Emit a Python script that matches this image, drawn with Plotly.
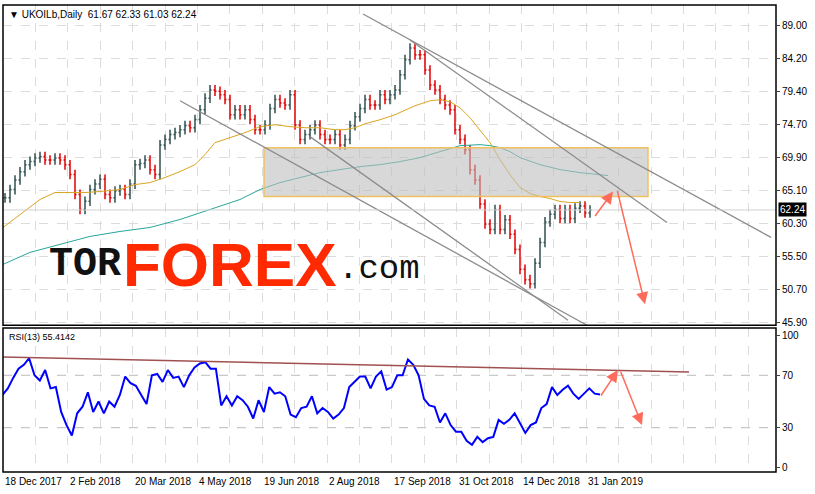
import numpy as np
import plotly.graph_objects as go
from plotly.subplots import make_subplots

# closes sampled every ~2.5 trading days (sample index k)
closes = [64.0,65.2,66.6,67.8,68.8,69.3,69.8,70.0,69.5,69.5,69.8,69.5,68.8,67.4,64.5,62.3,63.5,65.2,66.0,66.7,
          64.5,64.0,65.0,65.2,64.5,66.0,68.8,69.0,69.5,68.1,67.4,71.7,72.5,73.2,73.5,73.9,74.5,74.2,75.4,76.8,
          78.5,79.7,79.5,79.0,78.3,76.1,76.8,76.1,76.8,75.4,73.9,73.9,74.6,77.0,78.3,77.8,77.5,79.0,74.6,72.5,
          73.2,73.9,74.6,73.2,72.5,72.5,73.2,71.7,72.5,74.5,75.8,77.0,78.3,77.5,77.5,79.0,78.3,79.0,79.7,81.9,
          84.1,85.8,84.8,84.8,82.6,80.4,79.7,78.3,77.5,76.8,73.9,72.5,71.0,68.1,66.6,63.1,60.2,59.4,62.3,59.4,
          60.8,58.7,56.5,53.6,52.1,51.5,54.5,57.5,60.5,61.6,62.3,61.0,62.3,61.0,62.5,62.8,61.8,62.24]

ma50_k = [-0.4,3,7,10,13,16,19,23,26,29,32,35,38,40,42,45,48,51,54,57,60,63,66,68,70,72,75,78,82,85,87,89,91,93,95,97,99,101,103,105,107,109,111,113,115]
ma50_v = [59.69,61.58,63.76,64.77,64.77,64.77,64.92,65.21,65.93,66.22,66.95,67.82,68.83,70.28,72.03,72.75,73.48,74.35,74.64,74.35,
          74.20,74.20,73.91,73.91,74.20,74.78,75.36,76.09,77.39,78.12,78.27,77.98,77.10,75.65,73.91,72.03,69.56,67.38,65.50,64.63,
          64.19,63.90,63.47,63.32,63.32]
ma200_k = [-0.4,5,11,17,23,29,35,41,47,51,55,59,63,67,71,75,79,83,87,91,95,97,99,101,103,107,111,115,120.6]
ma200_v = [54.32,56.07,57.23,58.39,59.11,59.69,60.85,62.30,63.76,65.21,66.22,66.95,67.67,68.11,68.54,68.83,69.27,69.85,70.72,71.59,
           71.74,71.59,71.30,70.72,69.85,68.83,68.11,67.67,67.24]

rsi = [55,60,68,75,78,83,70,66,74,60,61,42,32,24,41,46,57,42,50,41,50,46,55,69,64,62,55,48,70,71,65,74,68,69,61,70,76,79,80,75,
       75,47,54,47,54,51,46,37,51,42,61,56,57,54,40,38,45,46,54,41,45,42,37,40,45,61,65,69,69,60,69,73,59,61,70,70,82,78,70,52,
       47,46,34,41,32,27,27,20,17,23,19,22,23,36,33,36,41,33,26,32,34,45,48,61,55,59,62,56,52,56,60,56,55.4]

price_ticks = [89.00,84.20,79.40,74.70,69.90,65.10,60.30,55.50,50.70,45.90]
rsi_ticks = [100,70,30,0]
date_labels = ["18 Dec 2017","2 Feb 2018","20 Mar 2018","4 May 2018","19 Jun 2018","2 Aug 2018",
               "17 Sep 2018","31 Oct 2018","14 Dec 2018","31 Jan 2019"]

zone = dict(k0=51.8, k1=128.6, p0=64.19, p1=71.30)
trend_lines = [((71.6,90.74),(153.2,58.24)),((81,86.97),(132.4,60.42)),((35,78.12),(116.4,45.47)),((61,72.90),(112.6,46.20))]
arrows_price = [((117.8,61.14),(121.6,64.92)),((122.4,65.21),(128,48.52))]
arrows_rsi = [((119,53.4),(122.6,74)),((123,74),(127.4,32))]
rsi_res = ((-0.4,84),(136.8,72.5))
last = 62.24

k = np.arange(len(closes))
opens = [closes[0]] + closes[:-1]
highs = [max(o, c) + 0.7 for o, c in zip(opens, closes)]
lows = [min(o, c) - 0.7 for o, c in zip(opens, closes)]

fig = make_subplots(rows=2, cols=1, shared_xaxes=True, vertical_spacing=0.006, row_heights=[0.69, 0.31])
fig.add_trace(go.Scatter(x=ma200_k, y=ma200_v, mode="lines", line=dict(color="#26A69A", width=1)), 1, 1)
fig.add_trace(go.Scatter(x=ma50_k, y=ma50_v, mode="lines", line=dict(color="#DAA520", width=1)), 1, 1)
fig.add_trace(go.Ohlc(x=k, open=opens, high=highs, low=lows, close=closes, tickwidth=0.3,
                      increasing=dict(line=dict(color="#2F4F4F", width=1.5)),
                      decreasing=dict(line=dict(color="#E00000", width=1.5))), 1, 1)
rx = np.linspace(-0.5, 119, len(rsi))
fig.add_trace(go.Scatter(x=rx, y=rsi, mode="lines", line=dict(color="#0000FF", width=2)), 2, 1)

XR = [-0.4, 154.2]
fig.add_shape(type="rect", x0=zone["k0"], x1=zone["k1"], y0=zone["p0"], y1=zone["p1"], xref="x", yref="y",
              fillcolor="rgba(190,190,190,0.6)", line=dict(color="#F0C060", width=1.5), layer="above")
for (a, b) in trend_lines:
    fig.add_shape(type="line", x0=a[0], y0=a[1], x1=b[0], y1=b[1], xref="x", yref="y", line=dict(color="#8C8C8C", width=1.3))
fig.add_shape(type="line", x0=XR[0], x1=XR[1], y0=last, y1=last, xref="x", yref="y", line=dict(color="#D0D0D0", width=1))
fig.add_shape(type="line", x0=rsi_res[0][0], y0=rsi_res[0][1], x1=rsi_res[1][0], y1=rsi_res[1][1], xref="x2", yref="y2",
              line=dict(color="#A05050", width=1.5))
for arrs, xr, yr in [(arrows_price, "x", "y"), (arrows_rsi, "x2", "y2")]:
    for (a, b) in arrs:
        fig.add_annotation(x=b[0], y=b[1], ax=a[0], ay=a[1], xref=xr, yref=yr, axref=xr, ayref=yr, text="",
                           showarrow=True, arrowhead=2, arrowsize=1.6, arrowwidth=1.5, arrowcolor="#FF6B5B")

for i, lab in enumerate(date_labels):
    fig.add_annotation(x=-0.4 + i * 12.96, y=0, yref="paper", xref="x2", text=lab, showarrow=False,
                       xanchor="left", yanchor="top", yshift=-2, font=dict(size=10, color="black", family="Liberation Sans"))

grid_k = [-0.4 + j * 6.48 for j in range(24)]
fig.update_xaxes(range=XR, tickvals=grid_k, ticktext=[""] * len(grid_k), showgrid=True, gridcolor="#DCDCDC",
                 griddash="dash", gridwidth=1, zeroline=False, rangeslider_visible=False, ticks="", showline=False)
fig.update_yaxes(side="right", range=[45.46, 92.05], tickvals=price_ticks, ticktext=[f"{v:.2f}" for v in price_ticks],
                 showgrid=True, gridcolor="#DCDCDC", griddash="dash", ticks="outside", ticklen=3, zeroline=False,
                 tickfont=dict(size=10, family="Liberation Sans", color="black"), row=1, col=1)
fig.update_yaxes(side="right", range=[-3.8, 106], tickvals=rsi_ticks, ticktext=[str(v) for v in rsi_ticks],
                 showgrid=False, ticks="outside", ticklen=3, zeroline=False,
                 tickfont=dict(size=10, family="Liberation Sans", color="black"), row=2, col=1)
for v in [70, 30]:
    fig.add_shape(type="line", x0=XR[0], x1=XR[1], y0=v, y1=v, xref="x2", yref="y2", line=dict(color="#BBBBBB", width=1, dash="dash"), layer="below")

for yr in ["y domain", "y2 domain"]:
    fig.add_shape(type="rect", x0=0, x1=1, y0=0, y1=1, xref="x domain", yref=yr, line=dict(color="black", width=1.5))

fig.add_annotation(x=1.0, y=last, xref="paper", yref="y", text=f"{last:.2f}", showarrow=False, xanchor="left", xshift=2,
                   bgcolor="black", font=dict(color="white", size=10, family="Liberation Sans"), borderpad=1)

fig.add_annotation(x=0.005, y=1, xref="paper", yref="paper", text="▼ UKOILb,Daily  61.67 62.33 61.03 62.24", showarrow=False,
                   xanchor="left", yanchor="top", yshift=-2, font=dict(size=10, family="Liberation Sans", color="black"))
fig.add_annotation(x=0.005, y=1, xref="x domain", yref="y2 domain", text="RSI(13) 55.4142", showarrow=False,
                   xanchor="left", yanchor="top", yshift=-2, font=dict(size=9, family="Liberation Sans", color="black"))

# watermark
fig.add_annotation(x=8.4, y=54.3, xref="x", yref="y", text="<b>TOR</b>", showarrow=False, xanchor="left", yanchor="middle",
                   font=dict(size=40, family="Liberation Mono", color="#111111"))
fig.add_annotation(x=23.2, y=54.3, xref="x", yref="y", text="<b>FOREX</b>", showarrow=False, xanchor="left", yanchor="middle",
                   font=dict(size=62, family="Liberation Sans", color="#FF2A00"))
fig.add_annotation(x=66.2, y=53.6, xref="x", yref="y", text=".com", showarrow=False, xanchor="left", yanchor="middle",
                   font=dict(size=34, family="Liberation Mono", color="#111111"))

fig.update_layout(width=815, height=494, margin=dict(l=3, r=39, t=5, b=22, autoexpand=False), plot_bgcolor="white",
                  paper_bgcolor="white", showlegend=False)
fig.write_html("out.html", config={"displayModeBar": False},
               post_script="document.body.style.margin='0';document.body.style.padding='0';")
